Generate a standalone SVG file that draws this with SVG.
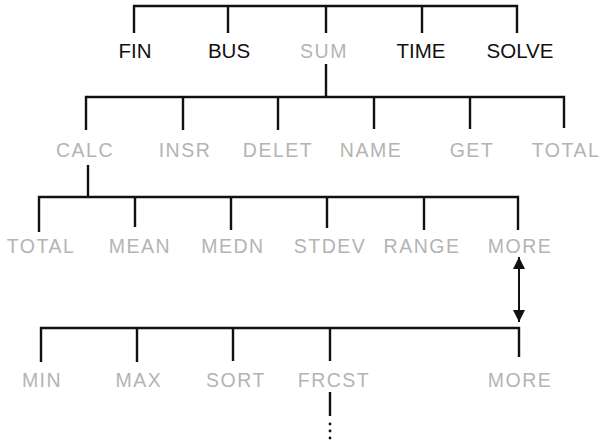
<svg xmlns="http://www.w3.org/2000/svg" width="605" height="441" viewBox="0 0 605 441">
<defs>
<marker id="ah" viewBox="0 0 10 10" refX="10" refY="5" markerWidth="18" markerHeight="12" markerUnits="userSpaceOnUse" orient="auto-start-reverse">
<path d="M0,0 L10,5 L0,10 z" fill="#111"/>
</marker>
<style>
.bk{font-family:"Liberation Sans",Arial,sans-serif;font-size:20.5px;fill:#111;text-anchor:middle}
.gy{font-family:"Liberation Sans",Arial,sans-serif;font-size:19.5px;fill:#b4b4b4;text-anchor:middle;letter-spacing:1.5px}
.ln{fill:none;stroke:#111;stroke-width:2.4;stroke-linejoin:miter}
</style>
</defs>
<rect width="605" height="441" fill="#fff"/>
<g id="connectors" class="ln">
<path d="M134,33 V6 H517 V33"/>
<path d="M228,6 V33 M326,6 V33 M422,6 V33"/>
<path d="M326,64 V97"/>
<path d="M86,130 V97 H564 V128"/>
<path d="M183,97 V130 M278,97 V130 M374,97 V129 M470,97 V129"/>
<path d="M88,165 V197"/>
<path d="M39,232 V197 H518 V230"/>
<path d="M135,197 V227 M231,197 V230 M327,197 V228 M424,197 V230"/>
<path d="M519,257 V322" marker-start="url(#ah)" marker-end="url(#ah)" style="stroke-width:2"/>
<path d="M41,362 V328 H519 V357"/>
<path d="M137,328 V362 M233,328 V361 M330,328 V361"/>
<path d="M330,392 V416"/>
<circle cx="330" cy="424" r="1.4" fill="#111" stroke="none"/>
<circle cx="330" cy="431" r="1.4" fill="#111" stroke="none"/>
<circle cx="330" cy="438" r="1.4" fill="#111" stroke="none"/>
</g>
<g id="fin"><text class="bk" x="135" y="58">FIN</text></g>
<g id="bus"><text class="bk" x="229" y="58">BUS</text></g>
<g id="sum"><text class="gy" x="324" y="58">SUM</text></g>
<g id="time"><text class="bk" x="421" y="58">TIME</text></g>
<g id="solve"><text class="bk" x="520" y="58">SOLVE</text></g>
<g id="calc"><text class="gy" x="85" y="157">CALC</text></g>
<g id="insr"><text class="gy" x="185" y="157">INSR</text></g>
<g id="delet"><text class="gy" x="278" y="157">DELET</text></g>
<g id="name"><text class="gy" x="371" y="157">NAME</text></g>
<g id="get"><text class="gy" x="472" y="157">GET</text></g>
<g id="total-sum"><text class="gy" x="566" y="157">TOTAL</text></g>
<g id="total-calc"><text class="gy" x="41" y="253">TOTAL</text></g>
<g id="mean"><text class="gy" x="140" y="253">MEAN</text></g>
<g id="medn"><text class="gy" x="233" y="253">MEDN</text></g>
<g id="stdev"><text class="gy" x="330" y="253">STDEV</text></g>
<g id="range"><text class="gy" x="422" y="253">RANGE</text></g>
<g id="more1"><text class="gy" x="520" y="253">MORE</text></g>
<g id="min"><text class="gy" x="42" y="387">MIN</text></g>
<g id="max"><text class="gy" x="139" y="387">MAX</text></g>
<g id="sort"><text class="gy" x="236" y="387">SORT</text></g>
<g id="frcst"><text class="gy" x="334" y="387">FRCST</text></g>
<g id="more2"><text class="gy" x="520" y="387">MORE</text></g>
</svg>
